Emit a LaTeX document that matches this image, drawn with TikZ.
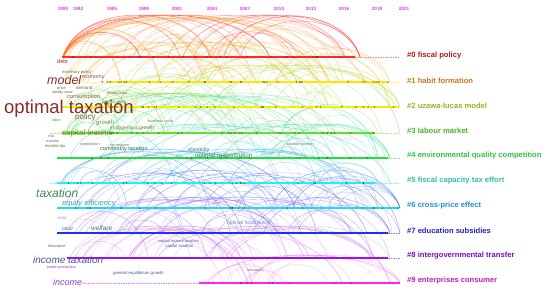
\documentclass[tikz,border=0pt]{standalone}
\usepackage{fontspec}
\setmainfont{Liberation Sans}
\newcommand\fsz[1]{\fontsize{#1}{#1}\selectfont}
\definecolor{yrc}{HTML}{E040E0}
\definecolor{ln0}{HTML}{FF2A2A}\definecolor{ac0}{HTML}{FF3A3A}\definecolor{cl0}{HTML}{B01818}
\definecolor{ln1}{HTML}{FFE600}\definecolor{ac1}{HTML}{FF9A10}\definecolor{cl1}{HTML}{C87812}
\definecolor{ln2}{HTML}{F2F000}\definecolor{ac2}{HTML}{C0E040}\definecolor{cl2}{HTML}{9AB020}
\definecolor{ln3}{HTML}{66E020}\definecolor{ac3}{HTML}{70E050}\definecolor{cl3}{HTML}{4EB028}
\definecolor{ln4}{HTML}{20E040}\definecolor{ac4}{HTML}{40E0A0}\definecolor{cl4}{HTML}{30C040}
\definecolor{ln5}{HTML}{20F0F0}\definecolor{ac5}{HTML}{40C8E0}\definecolor{cl5}{HTML}{30C0A0}
\definecolor{ln6}{HTML}{20D8F8}\definecolor{ac6}{HTML}{3C80F0}\definecolor{cl6}{HTML}{2090D0}
\definecolor{ln7}{HTML}{1A30FF}\definecolor{ac7}{HTML}{6A5AF0}\definecolor{cl7}{HTML}{2020C0}
\definecolor{ln8}{HTML}{9A10F0}\definecolor{ac8}{HTML}{B070F0}\definecolor{cl8}{HTML}{7010C0}
\definecolor{ln9}{HTML}{FF20FF}\definecolor{ac9}{HTML}{F070F0}\definecolor{cl9}{HTML}{C020C0}
\definecolor{dotc}{HTML}{503030}
\definecolor{kred}{HTML}{8C2A2A}
\definecolor{kbrown}{HTML}{806040}
\definecolor{kolive}{HTML}{6A8A30}
\definecolor{kgreen}{HTML}{3A8A5A}
\definecolor{kteal}{HTML}{40A0A0}
\definecolor{kblue}{HTML}{4070A0}
\definecolor{kpurp}{HTML}{5050A0}
\definecolor{kvio}{HTML}{9040C0}
\begin{document}
\begin{tikzpicture}[x=1pt,y=-1pt,
  yr/.style={text=yrc,font=\fsz{4.6}\bfseries,inner sep=0},
  cl/.style={anchor=west,font=\fsz{7.6}\bfseries,inner sep=0},
  kw/.style={inner sep=0,anchor=west},
  tinylab/.style={inner sep=0,anchor=west,text=black!55,font=\fsz{3.8}},
  rowline/.style={line width=1.7pt},
  ext/.style={line width=0.5pt,opacity=0.6,dash pattern=on 1.5pt off 1pt},
  arcline/.style={line width=0.5pt}]
\useasboundingbox (0,0) rectangle (550,295);
\fill[white] (0,0) rectangle (550,295);
% years
\foreach \x/\t [count=\k] in {63/1990,78/1992,112/1995,144/1998,177/2001,212/2004,245/2007,279/2010,311/2013,344/2016,377/2019,404/2021}
  \node[yr] (yr\k) at (\x,9) {\t};
% arcs: from an earlier node on a row to a later node on the same row or the row below
\pgfmathsetseed{777}
\foreach \yy/\ac/\ad/\xa/\xb/\n/\hm/\dm/\xm in {
 57/ac0/ac1/62/240/34/42/25/360,
 82/ac1/ac2/62/300/30/40/25/390,
 107/ac2/ac3/62/320/34/42/26/400,
 133/ac3/ac4/62/320/34/40/25/378,
 158/ac4/ac5/57/320/26/34/25/390,
 183/ac5/ac6/57/320/28/34/25/378,
 208/ac6/ac7/57/340/32/38/25/400,
 233/ac7/ac8/57/300/28/36/25/390,
 258/ac8/ac9/67/280/24/32/25/390,
 283/ac9/ac9/199/360/12/28/0/400}{
  \foreach \i in {1,...,\n}{
    \pgfmathsetmacro\xo{\xa+(rnd^1.3)*(\xb-\xa)}
    \pgfmathsetmacro\xt{min(\xo+40+rnd*190,\xm)}
    \pgfmathsetmacro\h{min(0.3*(\xt-\xo),\hm)}
    \pgfmathtruncatemacro\k{rnd<0.45}
    \pgfmathsetmacro\ye{\yy+\k*\dm}
    \pgfmathsetmacro\yc{\yy-1.33*\h}
    \pgfmathsetmacro\ca{\xo+0.12*(\xt-\xo)}
    \pgfmathsetmacro\cb{\xt-0.12*(\xt-\xo)}
    \pgfmathsetmacro\op{0.18+0.42*rnd}
    \ifnum\k=1 \def\cc{\ad}\else\def\cc{\ac}\fi
    \coordinate (s) at (\xo,\yy);
    \coordinate (t) at (\xt,\ye);
    \draw[\cc,opacity=\op,arcline] (s) .. controls (\ca,\yc) and (\cb,\yc) .. (t);
  }
}
% big early arcs from the 1990 node
\foreach \xt/\ye/\op/\cc in {355/57/0.25/ac0,300/57/0.3/ac0,270/57/0.7/ac0,240/57/0.45/ac0,210/57/0.5/ac0,180/57/0.45/ac0,160/82/0.55/ac1,140/57/0.55/ac0,120/82/0.5/ac1,330/82/0.4/ac1,365/82/0.35/ac1,290/57/0.45/ac1}{
  \pgfmathsetmacro\ca{63+0.12*(\xt-63)}
  \pgfmathsetmacro\cb{\xt-0.12*(\xt-63)}
  \pgfmathsetmacro\yc{57-1.33*min(0.32*(\xt-63),42)}
  \coordinate (s) at (63,57);
  \coordinate (t) at (\xt,\ye);
  \draw[\cc,opacity=\op,line width=0.7pt] (s) .. controls (\ca,\yc) and (\cb,\yc) .. (t);
}
% row lines
\coordinate (a0) at (62,57);  \coordinate (b0) at (355,57); \coordinate (c0) at (400,57);
\draw[rowline,ln0] (a0) -- (b0); \draw[ext,ln0] (b0) -- (c0);
\coordinate (a1) at (62,82);  \coordinate (m1) at (107,82); \coordinate (b1) at (388,82); \coordinate (c1) at (400,82);
\draw[ext,ln1] (a1) -- (m1); \draw[rowline,ln1] (m1) -- (b1); \draw[ext,ln1] (b1) -- (c1);
\coordinate (a2) at (62,107); \coordinate (b2) at (399,107);
\draw[rowline,ln2] (a2) -- (b2);
\coordinate (a3) at (50,133); \coordinate (m3) at (62,133); \coordinate (b3) at (375,133); \coordinate (c3) at (400,133);
\draw[ext,ln3] (a3) -- (m3); \draw[rowline,ln3] (m3) -- (b3); \draw[ext,ln3] (b3) -- (c3);
\coordinate (a4) at (57,158); \coordinate (b4) at (388,158); \coordinate (c4) at (400,158);
\draw[rowline,ln4] (a4) -- (b4); \draw[ext,ln4] (b4) -- (c4);
\coordinate (a5) at (50,183); \coordinate (m5) at (57,183); \coordinate (b5) at (375,183); \coordinate (c5) at (400,183);
\draw[ext,ln5] (a5) -- (m5); \draw[rowline,ln5] (m5) -- (b5); \draw[ext,ln5] (b5) -- (c5);
\coordinate (a6) at (57,208); \coordinate (b6) at (399,208);
\draw[rowline,ln6] (a6) -- (b6);
\coordinate (a7) at (57,233); \coordinate (b7) at (388,233); \coordinate (c7) at (400,233);
\draw[rowline,ln7] (a7) -- (b7); \draw[ext,ln7] (b7) -- (c7);
\coordinate (a8) at (67,258); \coordinate (b8) at (388,258); \coordinate (c8) at (400,258);
\draw[rowline,ln8] (a8) -- (b8); \draw[ext,ln8] (b8) -- (c8);
\coordinate (a9) at (83,283); \coordinate (m9) at (199,283); \coordinate (b9) at (400,283);
\draw[ext,ln9] (a9) -- (m9); \draw[rowline,ln9] (m9) -- (b9);
% dots on lines
\foreach \yy/\xs/\xe/\nd in {57/62/355/26,82/100/388/32,107/100/399/28,133/50/375/30,158/57/388/16,183/50/375/24,208/57/399/20,233/57/388/14,258/120/388/10,283/199/400/9}{
  \foreach \i in {1,...,\nd}{
    \pgfmathsetmacro\xd{\xs+rnd*(\xe-\xs)}
    \fill[dotc,opacity=0.85] (\xd,\yy) circle (0.75pt);
  }
}
% cluster labels
\node[cl,text=cl0] (c0l) at (407,55.5) {\#0 fiscal policy};
\node[cl,text=cl1] (c1l) at (407,80.5) {\#1 habit formation};
\node[cl,text=cl2] (c2l) at (407,105.5) {\#2 uzawa-lucas model};
\node[cl,text=cl3] (c3l) at (407,130.5) {\#3 labour market};
\node[cl,text=cl4] (c4l) at (407,155.5) {\#4 environmental quality competition};
\node[cl,text=cl5] (c5l) at (407,180.5) {\#5 fiscal capacity tax effort};
\node[cl,text=cl6] (c6l) at (407,205.5) {\#6 cross-price effect};
\node[cl,text=cl7] (c7l) at (407,230.5) {\#7 education subsidies};
\node[cl,text=cl8] (c8l) at (407,255.5) {\#8 intergovernmental transfer};
\node[cl,text=cl9] (c9l) at (407,280.5) {\#9 enterprises consumer};
% keyword labels
\node[kw,text=kred,font=\fsz{5.5}] (k1) at (57,62) {debt};
\node[kw,text=kbrown,font=\fsz{4.2}] (k2) at (62,72) {monetary policy};
\node[kw,text=kbrown,font=\fsz{5.5}] (k4) at (82,78) {economy};
\node[kw,text=kred,font=\fsz{12.5}\itshape] (k3) at (47,80) {model};
\node[kw,text=kbrown,font=\fsz{4}] (k5) at (57,88) {price};
\node[kw,text=kbrown,font=\fsz{4.5}] (k6) at (76,88) {demand};
\node[kw,text=kbrown,font=\fsz{3.8}] (k7) at (52,93) {steady state};
\node[kw,text=kbrown,font=\fsz{4.2}] (k8) at (107,92.5) {economics};
\node[kw,text=kbrown,font=\fsz{5.8}] (k9) at (67,97) {consumption};
\node[kw,text=kolive,font=\fsz{4.2}] (k10) at (102,102) {sustainability};
\node[kw,text=kbrown,font=\fsz{8}] (k12) at (75,117.5) {policy};
\node[kw,text=kred,font=\fsz{18.5}] (k11) at (4,109) {optimal taxation};
\node[kw,text=kolive,font=\fsz{3.8}] (k13) at (52,120) {labor};
\node[kw,text=kolive,font=\fsz{6}] (k14) at (96,123) {growth};
\node[tinylab] (k15) at (148,122) {business cycle};
\node[kw,text=kolive,font=\fsz{5}] (k16) at (110,128) {endogenous growth};
\node[kw,text=kolive,font=\fsz{8}] (k17) at (62,133) {capital income};
\node[tinylab] (k18) at (48,136.5) {risk};
\node[tinylab] (k19) at (46,141) {evasion};
\node[kw,text=kolive!80!black,font=\fsz{4.2}] (k20) at (45,146) {income tax};
\node[tinylab] (k21) at (80,145) {competition};
\node[tinylab] (k22) at (110,145) {tax evasion};
\node[tinylab] (k23) at (287,144) {taxable income};
\node[kw,text=kgreen!80!black,font=\fsz{5.5}] (k24) at (100,149) {commodity taxation};
\node[kw,text=kgreen,font=\fsz{5.5}] (k25) at (188,150) {elasticity};
\node[kw,text=kgreen,font=\fsz{6.2}] (k26) at (195,155.5) {optimal redistribution};
\node[kw,text=kgreen,font=\fsz{12}\itshape] (k27) at (36,193) {taxation};
\node[kw,text=kteal,font=\fsz{7.5}\itshape] (k28) at (62,204) {equity efficiency};
\node[kw,text=kblue!70,font=\fsz{4.5}] (k29) at (58,218) {cost};
\node[kw,text=kblue,font=\fsz{5}\itshape] (k30) at (62,229) {labor};
\node[kw,text=kblue,font=\fsz{6.5}\itshape] (k31) at (91,228) {welfare};
\node[kw,text=kblue!80,font=\fsz{5}] (k32) at (227,223) {optimal fiscal policy};
\node[kw,text=kpurp,font=\fsz{4}] (k33) at (48,246) {insurance};
\node[kw,text=kpurp,font=\fsz{4}] (k34) at (158,241) {capital income taxation};
\node[kw,text=kpurp,font=\fsz{4.2}] (k35) at (165,246) {capital taxation};
\node[kw,text=kpurp,font=\fsz{10}\itshape] (k36) at (33,260) {income taxation};
\node[kw,text=kvio,font=\fsz{3.8}] (k37) at (47,267.5) {public production};
\node[tinylab] (k38) at (247,270) {education};
\node[kw,text=kpurp,font=\fsz{4.3}] (k39) at (113,273) {general equilibrium growth};
\node[kw,text=kvio,font=\fsz{9}\itshape] (k40) at (53,282) {income};
\end{tikzpicture}
\end{document}
